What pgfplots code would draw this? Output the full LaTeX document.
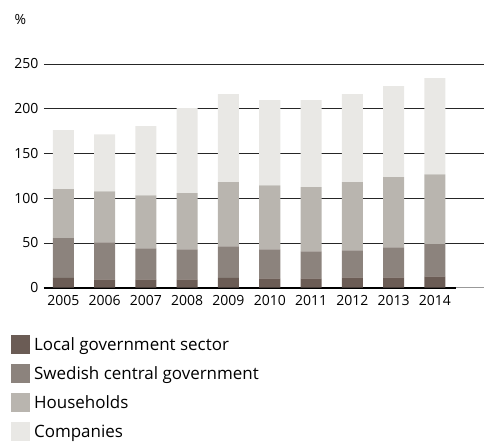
\documentclass[border=0pt]{standalone}
\usepackage{pgfplots}
\pgfplotsset{compat=1.18}
\usepackage{fontspec}
\setmainfont{Open Sans}
\definecolor{cLocal}{HTML}{6B5C55}
\definecolor{cCentral}{HTML}{8C837D}
\definecolor{cHouse}{HTML}{B9B5AF}
\definecolor{cComp}{HTML}{E9E8E5}
\begin{document}
\begin{tikzpicture}
\begin{axis}[
  scale only axis,
  width=441bp, height=224bp,
  xmin=-0.47, xmax=10.2,
  ymin=0, ymax=250,
  ybar stacked,
  bar width=0.51,
  axis line style={draw=none},
  ytick={0,50,100,150,200,250},
  xtick={0,1,2,3,4,5,6,7,8,9},
  xticklabels={2005,2006,2007,2008,2009,2010,2011,2012,2013,2014},
  major tick length=0pt,
  ymajorgrids,
  grid style={draw=black!85, line width=0.8pt},
  tick label style={font=\fontsize{14bp}{16bp}\selectfont},
  /pgf/number format/assume math mode=true,
  yticklabel style={xshift=-2bp},
  xticklabel style={yshift=-4bp},
  legend style={at={(axis description cs:-0.075,-0.213)}, anchor=north west,
    draw=none, fill=none, inner sep=0pt, row sep=10bp,
    font=\fontsize{17bp}{19bp}\selectfont,
    cells={anchor=west}},
  legend image code/.code={\fill[#1,draw=none] (0bp,-9.5bp) rectangle (19bp,9.5bp); \path (21bp,0);},
  clip=false,
]
\addplot[fill=cLocal, draw=none] coordinates {(0,10.8) (1,9.3) (2,9.3) (3,9.3) (4,10.8) (5,10.4) (6,10.4) (7,11.6) (8,11.6) (9,12.7)};
\addplot[fill=cCentral, draw=none] coordinates {(0,44.4) (1,41.4) (2,34.7) (3,33.6) (4,35.4) (5,32.5) (6,30.2) (7,30.1) (8,33.5) (9,35.8)};
\addplot[fill=cHouse, draw=none] coordinates {(0,54.8) (1,57.0) (2,59.2) (3,62.6) (4,71.6) (5,71.5) (6,71.6) (7,76.1) (8,78.3) (9,78.2)};
\addplot[fill=cComp, draw=none] coordinates {(0,66.0) (1,63.7) (2,77.2) (3,95.0) (4,98.4) (5,95.1) (6,97.3) (7,98.4) (8,101.7) (9,107.3)};
\legend{Local government sector, Swedish central government, Households, Companies}
\draw[black, line width=2.2pt] (axis cs:-0.47,0) -- (axis cs:9.5,0);
\draw[black!40, line width=1.2pt] (axis cs:9.5,0) -- (axis cs:10.2,0);
\end{axis}
\node[anchor=west, font=\fontsize{14bp}{16bp}\selectfont] at (-33bp,268bp) {\%};
\path[use as bounding box] (-44bp,-153bp) rectangle (441bp,288bp);
\end{tikzpicture}
\end{document}
